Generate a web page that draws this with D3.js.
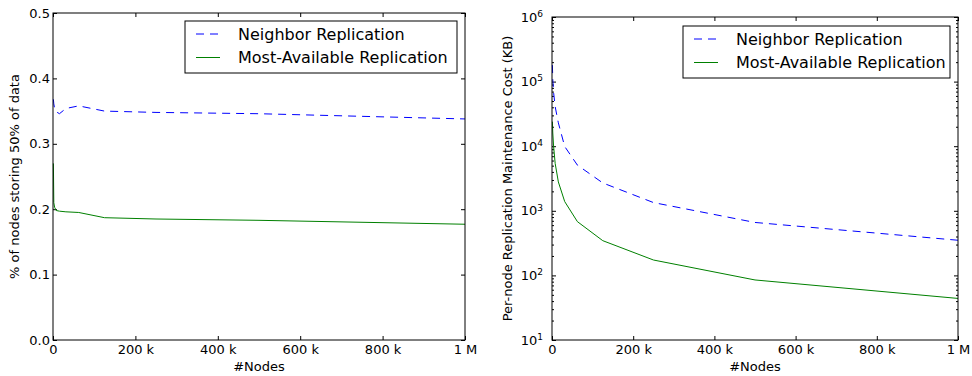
<!DOCTYPE html>
<html>
<head>
<meta charset="utf-8">
<script src="https://cdn.jsdelivr.net/npm/d3@7"></script>
<style>
  body { margin: 0; background: #fff; }
  svg { font-family: "DejaVu Sans", sans-serif; }
  .domain { display: none; }
</style>
</head>
<body>
<div id="chart"></div>
<script>
// number of nodes in the network (x values shared by both panels)
const nodes = [976, 1953, 3906, 7812, 15625, 31250, 62500, 125000, 250000, 500000, 1000000]

// left panel: fraction of nodes that store 50% of the data
const neighborShare = [0.368, 0.361, 0.354, 0.349, 0.346, 0.354, 0.358, 0.350, 0.348, 0.346, 0.338]
const mostAvailShare = [0.270, 0.210, 0.203, 0.198, 0.197, 0.196, 0.195, 0.187, 0.185, 0.183, 0.177]

// right panel: per-node maintenance cost (KB)
const neighborCost = [180000, 107000, 68000, 41000, 23000, 9900, 5100, 2700, 1340, 660, 350]
const mostAvailCost = [24000, 16000, 10000, 5400, 2800, 1390, 680, 345, 173, 85, 44]

const xTicks = [0, 200000, 400000, 600000, 800000, 1000000]
const leftYTicks = [0.0, 0.1, 0.2, 0.3, 0.4, 0.5]
const rightYTicks = [1e1, 1e2, 1e3, 1e4, 1e5, 1e6]
const seriesNames = ["Neighbor Replication", "Most-Available Replication"]

const width = 972, height = 376

const svg = d3.select("#chart")
    .append("svg")
    .attr("width", width)
    .attr("height", height)

function fmtNodes(d) {
    if (d === 0) return "0"
    if (d >= 1e6) return (d / 1e6) + " M"
    return (d / 1000) + " k"
}

function drawPanel(opts) {
    const { left, right, top, bottom } = opts
    const g = svg.append("g")

    const x = d3.scaleLinear().domain([0, 1e6]).range([left, right])
    const y = opts.y.range([bottom, top])

    // ticks inside, on all four sides
    g.append("g")
        .attr("transform", `translate(0,${bottom})`)
        .call(d3.axisBottom(x).tickValues(xTicks).tickSize(-4).tickPadding(5).tickFormat(fmtNodes))
    g.append("g")
        .attr("transform", `translate(0,${top})`)
        .call(d3.axisTop(x).tickValues(xTicks).tickSize(-4).tickFormat(""))

    const yl = g.append("g")
        .attr("transform", `translate(${left},0)`)
        .call(d3.axisLeft(y).tickValues(opts.yTicks).tickSize(-4).tickPadding(opts.yPad).tickFormat(opts.yFormat))
    g.append("g")
        .attr("transform", `translate(${right},0)`)
        .call(d3.axisRight(y).tickValues(opts.yTicks).tickSize(-4).tickFormat(""))

    if (opts.minor) {
        g.append("g")
            .attr("transform", `translate(${left},0)`)
            .call(d3.axisLeft(y).tickValues(opts.minor).tickSize(-2).tickFormat(""))
        g.append("g")
            .attr("transform", `translate(${right},0)`)
            .call(d3.axisRight(y).tickValues(opts.minor).tickSize(-2).tickFormat(""))
    }
    if (opts.sup) {
        yl.selectAll(".tick text").each(function (d) {
            const t = d3.select(this).text("10")
            t.append("tspan")
                .attr("dy", "-0.55em")
                .attr("font-size", 9)
                .text(Math.round(Math.log10(d)))
        })
    }

    g.selectAll(".tick text").attr("font-size", 13).attr("fill", "#000")
        .attr("font-family", "DejaVu Sans, sans-serif")
    g.selectAll(".tick line").attr("stroke", "#000")

    // data lines
    const line = d3.line().x((d, i) => x(nodes[i])).y(d => y(d))
    g.append("path")
        .datum(opts.s1)
        .attr("d", line)
        .attr("fill", "none")
        .attr("stroke", "#0000ff")
        .attr("stroke-dasharray", "8,6")
        .attr("stroke-width", 1)
    g.append("path")
        .datum(opts.s2)
        .attr("d", line)
        .attr("fill", "none")
        .attr("stroke", "#008000")
        .attr("stroke-width", 1)

    // frame
    g.append("rect")
        .attr("x", left).attr("y", top)
        .attr("width", right - left).attr("height", bottom - top)
        .attr("fill", "none").attr("stroke", "#000")

    // axis labels
    g.append("text")
        .attr("x", (left + right) / 2).attr("y", 371)
        .attr("text-anchor", "middle").attr("font-size", 13)
        .text("#Nodes")
    g.append("text")
        .attr("transform", `translate(${opts.yLabelX},${(top + bottom) / 2}) rotate(-90)`)
        .attr("text-anchor", "middle").attr("font-size", 13)
        .text(opts.yLabel)

    // legend
    const lg = g.append("g").attr("transform", `translate(${opts.legend[0]},${opts.legend[1]})`)
    lg.append("rect")
        .attr("width", opts.legend[2]).attr("height", 52)
        .attr("fill", "#fff").attr("stroke", "#000")
    seriesNames.forEach((name, i) => {
        const yy = 13 + i * 23.5
        lg.append("line")
            .attr("x1", 11).attr("x2", 35).attr("y1", yy).attr("y2", yy)
            .attr("stroke", i === 0 ? "#0000ff" : "#008000")
            .attr("stroke-dasharray", i === 0 ? "8,6" : null)
        lg.append("text")
            .attr("x", 53).attr("y", yy).attr("dy", "0.35em")
            .attr("font-size", 16)
            .text(name)
    })
}

drawPanel({
    left: 53, right: 465, top: 13, bottom: 340,
    y: d3.scaleLinear().domain([0, 0.5]),
    yTicks: leftYTicks,
    yPad: 3,
    yFormat: d3.format(".1f"),
    s1: neighborShare, s2: mostAvailShare,
    yLabel: "% of nodes storing 50% of data",
    yLabelX: 19,
    legend: [185, 21, 272]
})

const minorTicks = []
for (let e = 1; e < 6; e++) for (let m = 2; m < 10; m++) minorTicks.push(m * Math.pow(10, e))

drawPanel({
    left: 552, right: 958, top: 17, bottom: 340,
    y: d3.scaleLog().domain([10, 1e6]),
    yTicks: rightYTicks,
    yPad: 9,
    yFormat: d => d,
    sup: true,
    minor: minorTicks,
    s1: neighborCost, s2: mostAvailCost,
    yLabel: "Per-node Replication Maintenance Cost (KB)",
    yLabelX: 512,
    legend: [683, 26, 267]
})
</script>
</body>
</html>
